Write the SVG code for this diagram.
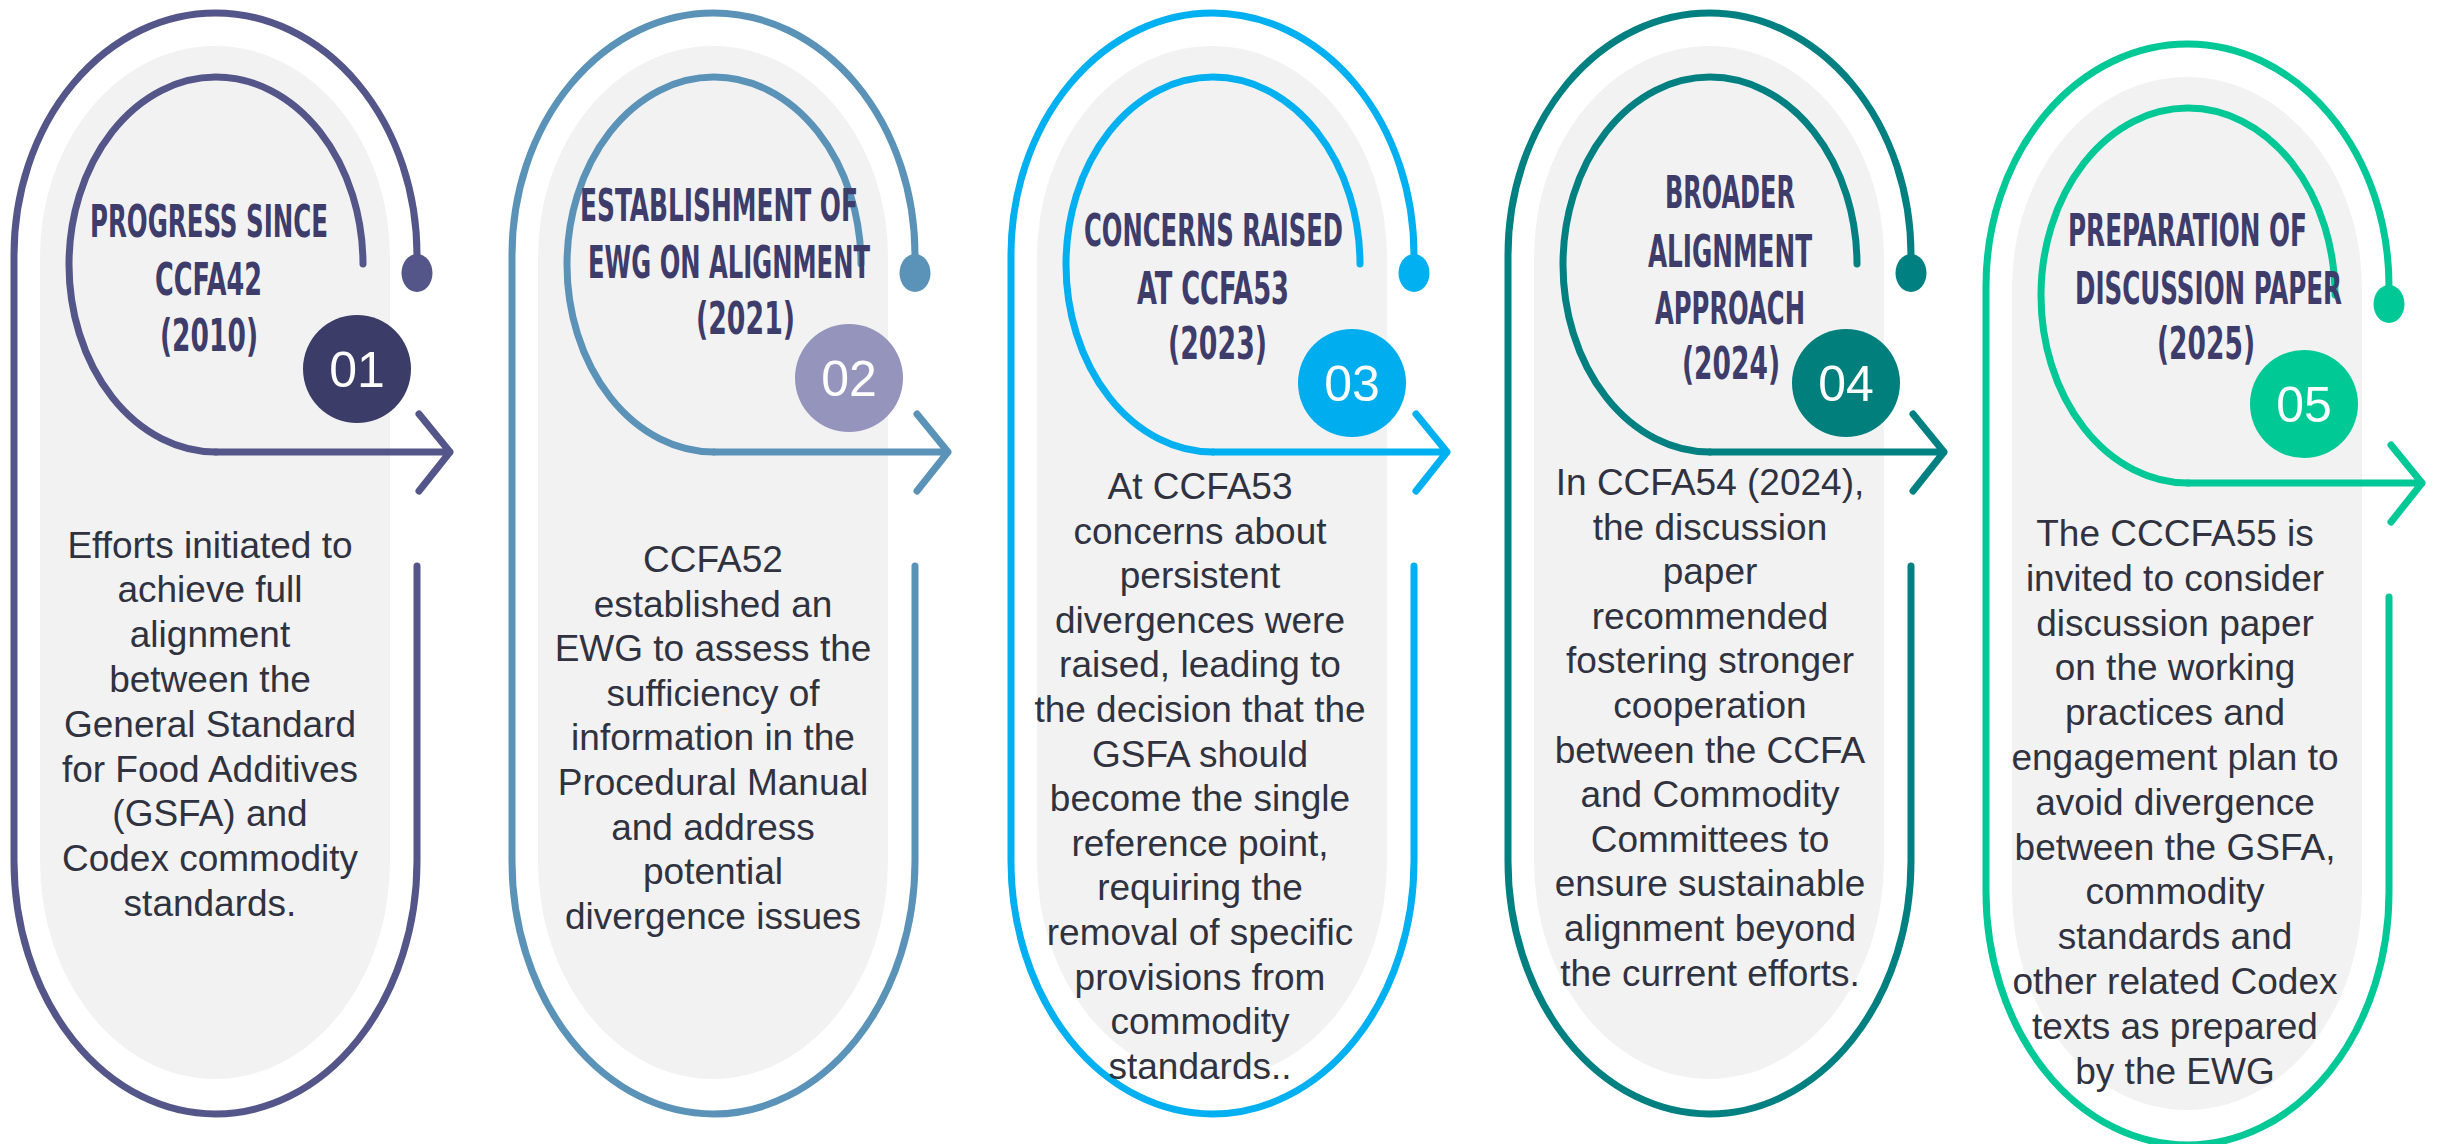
<svg xmlns="http://www.w3.org/2000/svg" xmlns:xlink="http://www.w3.org/1999/xlink" width="2443" height="1144" viewBox="0 0 2443 1144">
<style>
.gray{fill:#f2f2f2}
.ln{fill:none;stroke-width:7;stroke-linecap:round;stroke-linejoin:round}
.title{font-family:"Liberation Sans Narrow","DejaVu Sans Condensed","Liberation Sans",Arial,sans-serif;font-weight:700;font-size:45px;fill:#3d3c6a}
.body{font-family:"Liberation Sans",Arial,sans-serif;font-size:37px;fill:#30323f;text-anchor:middle}
.num{font-family:"Liberation Sans",Arial,sans-serif;font-size:50px;fill:#ffffff;text-anchor:middle}
</style>
<defs>
<path id="pill" d="M40,257 A175,211 0 0 1 390,257 L390,861 A175,218 0 0 1 40,861 Z"/>
<path id="outer" d="M417,566 L417,861 A201.5,253 0 0 1 14,861 L14,255 A201.5,242 0 0 1 417,255 L417,262"/>
<path id="inner" d="M363,264 A147,187.5 0 1 0 216,452"/>
<path id="arrow" d="M216,452 L450,452 M419,414 L450,452 L419,491"/>
</defs>
<rect width="2443" height="1144" fill="#ffffff"/>

<g id="node-01">
<use xlink:href="#pill" class="gray"/>
<g class="ln" stroke="#545589"><use xlink:href="#outer"/><use xlink:href="#inner"/></g>
<ellipse cx="417" cy="273" rx="15.5" ry="19" fill="#545589"/>
<circle cx="357" cy="369" r="54" fill="#3c3c68"/>
<text class="num" x="357" y="387">01</text>
<text class="title" x="90" y="237" textLength="238" lengthAdjust="spacingAndGlyphs">PROGRESS SINCE</text>
<text class="title" x="155" y="295" textLength="107" lengthAdjust="spacingAndGlyphs">CCFA42</text>
<text class="title" x="160" y="351" textLength="98" lengthAdjust="spacingAndGlyphs">(2010)</text>
<text class="body" y="557.5"><tspan x="210">Efforts initiated to</tspan><tspan x="210" dy="44.8">achieve full</tspan><tspan x="210" dy="44.8">alignment</tspan><tspan x="210" dy="44.8">between the</tspan><tspan x="210" dy="44.8">General Standard</tspan><tspan x="210" dy="44.8">for Food Additives</tspan><tspan x="210" dy="44.8">(GSFA) and</tspan><tspan x="210" dy="44.8">Codex commodity</tspan><tspan x="210" dy="44.8">standards.</tspan></text>
</g>

<g id="node-02" transform="translate(498,0)">
<use xlink:href="#pill" class="gray"/>
<g class="ln" stroke="#5b93b8"><use xlink:href="#outer"/><use xlink:href="#inner"/></g>
<ellipse cx="417" cy="273" rx="15.5" ry="19" fill="#5b93b8"/>
<circle cx="351" cy="378" r="54" fill="#9494bd"/>
<text class="num" x="351" y="396">02</text>
<text class="title" x="82" y="221" textLength="278" lengthAdjust="spacingAndGlyphs">ESTABLISHMENT OF</text>
<text class="title" x="90" y="278" textLength="282" lengthAdjust="spacingAndGlyphs">EWG ON ALIGNMENT</text>
<text class="title" x="198" y="334" textLength="99" lengthAdjust="spacingAndGlyphs">(2021)</text>
<text class="body" y="572"><tspan x="215">CCFA52</tspan><tspan x="215" dy="44.6">established an</tspan><tspan x="215" dy="44.6">EWG to assess the</tspan><tspan x="215" dy="44.6">sufficiency of</tspan><tspan x="215" dy="44.6">information in the</tspan><tspan x="215" dy="44.6">Procedural Manual</tspan><tspan x="215" dy="44.6">and address</tspan><tspan x="215" dy="44.6">potential</tspan><tspan x="215" dy="44.6">divergence issues</tspan></text>
</g>

<g id="node-03" transform="translate(997,0)">
<use xlink:href="#pill" class="gray"/>
<g class="ln" stroke="#00b0f0"><use xlink:href="#outer"/><use xlink:href="#inner"/></g>
<ellipse cx="417" cy="273" rx="15.5" ry="19" fill="#00b0f0"/>
<circle cx="355" cy="383" r="54" fill="#00aeef"/>
<text class="num" x="355" y="401">03</text>
<text class="title" x="87" y="246" textLength="259" lengthAdjust="spacingAndGlyphs">CONCERNS RAISED</text>
<text class="title" x="140" y="304" textLength="152" lengthAdjust="spacingAndGlyphs">AT CCFA53</text>
<text class="title" x="171" y="359" textLength="99" lengthAdjust="spacingAndGlyphs">(2023)</text>
<text class="body" y="499"><tspan x="203">At CCFA53</tspan><tspan x="203" dy="44.6">concerns about</tspan><tspan x="203" dy="44.6">persistent</tspan><tspan x="203" dy="44.6">divergences were</tspan><tspan x="203" dy="44.6">raised, leading to</tspan><tspan x="203" dy="44.6">the decision that the</tspan><tspan x="203" dy="44.6">GSFA should</tspan><tspan x="203" dy="44.6">become the single</tspan><tspan x="203" dy="44.6">reference point,</tspan><tspan x="203" dy="44.6">requiring the</tspan><tspan x="203" dy="44.6">removal of specific</tspan><tspan x="203" dy="44.6">provisions from</tspan><tspan x="203" dy="44.6">commodity</tspan><tspan x="203" dy="44.6">standards..</tspan></text>
</g>

<g id="node-04" transform="translate(1494,0)">
<use xlink:href="#pill" class="gray"/>
<g class="ln" stroke="#008080"><use xlink:href="#outer"/><use xlink:href="#inner"/></g>
<ellipse cx="417" cy="273" rx="15.5" ry="19" fill="#008080"/>
<circle cx="352" cy="383" r="54" fill="#007f7c"/>
<text class="num" x="352" y="401">04</text>
<text class="title" x="171" y="208" textLength="130" lengthAdjust="spacingAndGlyphs">BROADER</text>
<text class="title" x="154" y="267" textLength="164" lengthAdjust="spacingAndGlyphs">ALIGNMENT</text>
<text class="title" x="161" y="324" textLength="150" lengthAdjust="spacingAndGlyphs">APPROACH</text>
<text class="title" x="188" y="379" textLength="98" lengthAdjust="spacingAndGlyphs">(2024)</text>
<text class="body" y="495"><tspan x="216">In CCFA54 (2024),</tspan><tspan x="216" dy="44.6">the discussion</tspan><tspan x="216" dy="44.6">paper</tspan><tspan x="216" dy="44.6">recommended</tspan><tspan x="216" dy="44.6">fostering stronger</tspan><tspan x="216" dy="44.6">cooperation</tspan><tspan x="216" dy="44.6">between the CCFA</tspan><tspan x="216" dy="44.6">and Commodity</tspan><tspan x="216" dy="44.6">Committees to</tspan><tspan x="216" dy="44.6">ensure sustainable</tspan><tspan x="216" dy="44.6">alignment beyond</tspan><tspan x="216" dy="44.6">the current efforts.</tspan></text>
</g>

<g id="node-05" transform="translate(1972,31)">
<use xlink:href="#pill" class="gray"/>
<g class="ln" stroke="#00c896"><use xlink:href="#outer"/><use xlink:href="#inner"/></g>
<ellipse cx="417" cy="273" rx="15.5" ry="19" fill="#00c896"/>
<circle cx="332" cy="373" r="54" fill="#00c996"/>
<text class="num" x="332" y="391">05</text>
<text class="title" x="96" y="215" textLength="239" lengthAdjust="spacingAndGlyphs">PREPARATION OF</text>
<text class="title" x="103" y="273" textLength="267" lengthAdjust="spacingAndGlyphs">DISCUSSION PAPER</text>
<text class="title" x="185" y="328" textLength="98" lengthAdjust="spacingAndGlyphs">(2025)</text>
<text class="body" y="515"><tspan x="203">The CCCFA55 is</tspan><tspan x="203" dy="44.8">invited to consider</tspan><tspan x="203" dy="44.8">discussion paper</tspan><tspan x="203" dy="44.8">on the working</tspan><tspan x="203" dy="44.8">practices and</tspan><tspan x="203" dy="44.8">engagement plan to</tspan><tspan x="203" dy="44.8">avoid divergence</tspan><tspan x="203" dy="44.8">between the GSFA,</tspan><tspan x="203" dy="44.8">commodity</tspan><tspan x="203" dy="44.8">standards and</tspan><tspan x="203" dy="44.8">other related Codex</tspan><tspan x="203" dy="44.8">texts as prepared</tspan><tspan x="203" dy="44.8">by the EWG</tspan></text>
</g>

<g id="connectors" class="ln">
<use xlink:href="#arrow" stroke="#545589"/>
<use xlink:href="#arrow" stroke="#5b93b8" transform="translate(498,0)"/>
<use xlink:href="#arrow" stroke="#00b0f0" transform="translate(997,0)"/>
<use xlink:href="#arrow" stroke="#008080" transform="translate(1494,0)"/>
<use xlink:href="#arrow" stroke="#00c896" transform="translate(1972,31)"/>
</g>
</svg>
